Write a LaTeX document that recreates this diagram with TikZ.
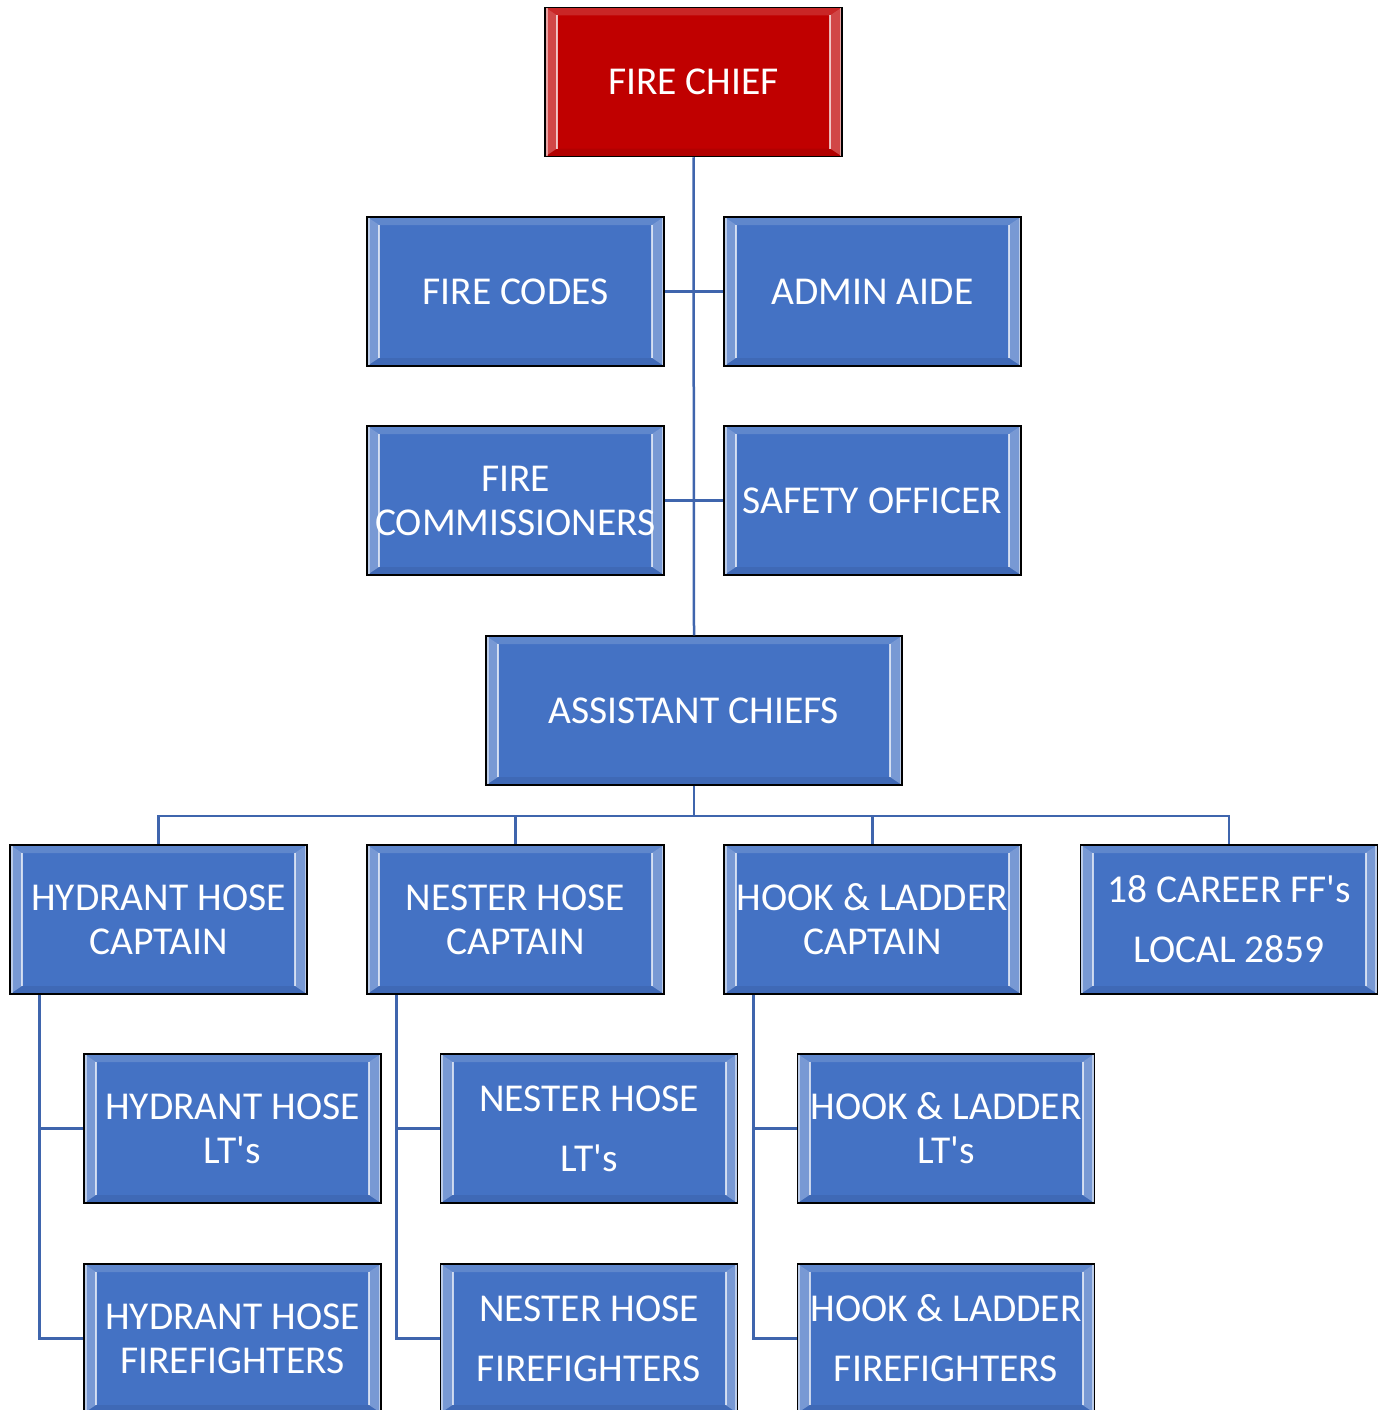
\documentclass[tikz,border=0pt]{standalone}
\usepackage{fontspec}
\setmainfont{Carlito}[Ligatures=TeXOff]
\definecolor{boxblue}{HTML}{4472C4}
\definecolor{chiefred}{HTML}{C00000}
\definecolor{linkblue}{HTML}{3F65AD}
\tikzset{
  bevelbox/.style={draw=black, line width=1.5pt, fill=#1, minimum width=297pt,
    minimum height=149pt, inner sep=0pt, text=white,
    font=\fontsize{39.5}{44}\selectfont, align=center,
    path picture={
      \coordinate (pnw) at (path picture bounding box.north west);
      \coordinate (pne) at (path picture bounding box.north east);
      \coordinate (psw) at (path picture bounding box.south west);
      \coordinate (pse) at (path picture bounding box.south east);
      \fill[white,opacity=0.28] (psw) -- ([shift={(12pt,8pt)}]psw) -- ([shift={(12pt,-8pt)}]pnw) -- (pnw) -- cycle;
      \fill[white,opacity=0.28] (pse) -- ([shift={(-12pt,8pt)}]pse) -- ([shift={(-12pt,-8pt)}]pne) -- (pne) -- cycle;
      \fill[white,opacity=0.15] (pnw) -- ([shift={(12pt,-8pt)}]pnw) -- ([shift={(-12pt,-8pt)}]pne) -- (pne) -- cycle;
      \fill[black,opacity=0.07] (psw) -- ([shift={(12pt,8pt)}]psw) -- ([shift={(-12pt,8pt)}]pse) -- (pse) -- cycle;
      \draw[white,opacity=0.7,line width=2pt] ([shift={(12pt,8pt)}]psw) -- ([shift={(12pt,-8pt)}]pnw);
      \draw[white,opacity=0.7,line width=2pt] ([shift={(-12pt,8pt)}]pse) -- ([shift={(-12pt,-8pt)}]pne);
      \draw[white,opacity=0.5,line width=2pt] ([shift={(1.5pt,0pt)}]psw) -- ([shift={(1.5pt,0pt)}]pnw);
      \draw[white,opacity=0.5,line width=2pt] ([shift={(-1.5pt,0pt)}]pse) -- ([shift={(-1.5pt,0pt)}]pne);
    }},
  bluebox/.style={bevelbox=boxblue},
  redbox/.style={bevelbox=chiefred},
  link/.style={draw=linkblue, line width=2.5pt},
}
\begin{document}
\begin{tikzpicture}[x=1pt,y=-1pt]
\useasboundingbox (0,0) rectangle (1379,1410);
\clip (0,0) rectangle (1379,1410);
\fill[white] (0,0) rectangle (1379,1410);

\node[redbox] (chief) at (693.5,82) {FIRE CHIEF};
\node[bluebox] (codes) at (515.5,291.5) {FIRE CODES};
\node[bluebox] (admin) at (872.5,291.5) {ADMIN AIDE};
\node[bluebox] (comm) at (515.5,500.5) {FIRE\\COMMISSIONERS};
\node[bluebox] (safety) at (872.5,500.5) {SAFETY OFFICER};
\node[bluebox, minimum width=416pt] (asst) at (694,710.5) {ASSISTANT CHIEFS};

\node[bluebox] (hyd) at (158.5,919.5) {HYDRANT HOSE\\CAPTAIN};
\node[bluebox] (nes) at (515.5,919.5) {NESTER HOSE\\CAPTAIN};
\node[bluebox] (hl) at (872.5,919.5) {HOOK \& LADDER\\CAPTAIN};
\node[bluebox] (car) at (1229,919.5) {18 CAREER FF's\\[16pt]LOCAL 2859};

\node[bluebox] (hydlt) at (232.5,1128.5) {HYDRANT HOSE\\LT's};
\node[bluebox] (neslt) at (589,1128.5) {NESTER HOSE\\[16pt]LT's};
\node[bluebox] (hllt) at (946,1128.5) {HOOK \& LADDER\\LT's};

\node[bluebox] (hydff) at (232.5,1338.5) {HYDRANT HOSE\\FIREFIGHTERS};
\node[bluebox] (nesff) at (589,1338.5) {NESTER HOSE\\[16pt]FIREFIGHTERS};
\node[bluebox] (hlff) at (946,1338.5) {HOOK \& LADDER\\[16pt]FIREFIGHTERS};

\draw[link] (chief.south) -- (asst.north);
\draw[link] (codes.east) -- (admin.west);
\draw[link] (comm.east) -- (safety.west);

\draw[link] (asst.south) -- ++(0,30) -| (hyd.north);
\draw[link] (asst.south) -- ++(0,30) -| (nes.north);
\draw[link] (asst.south) -- ++(0,30) -| (hl.north);
\draw[link] (asst.south) -- ++(0,30) -| (car.north);

\draw[link] ([xshift=30pt]hyd.south west) |- (hydlt.west);
\draw[link] ([xshift=30pt]hyd.south west) |- (hydff.west);
\draw[link] ([xshift=30pt]nes.south west) |- (neslt.west);
\draw[link] ([xshift=30pt]nes.south west) |- (nesff.west);
\draw[link] ([xshift=30pt]hl.south west) |- (hllt.west);
\draw[link] ([xshift=30pt]hl.south west) |- (hlff.west);
\end{tikzpicture}
\end{document}
